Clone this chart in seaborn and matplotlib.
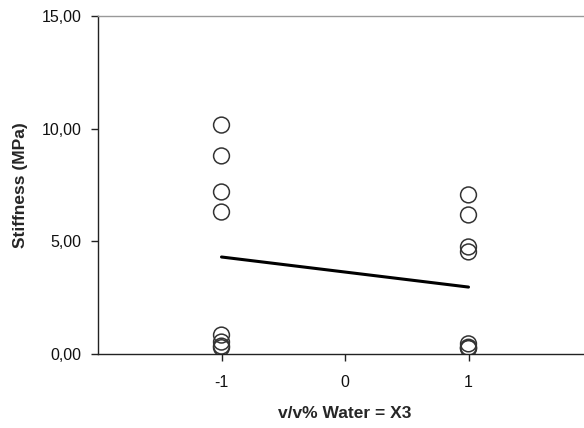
import matplotlib
matplotlib.use("Agg")
import matplotlib.pyplot as plt
import seaborn as sns
import pandas as pd
from matplotlib.ticker import FuncFormatter

x_levels = [-1] * 8 + [1] * 8
stiffness = [10.16, 8.79, 7.19, 6.30, 0.84, 0.53, 0.35, 0.28,
             7.06, 6.17, 4.75, 4.53, 0.45, 0.30, 0.25, 0.25]
x_ticks = [-1, 0, 1]
y_ticks = [0, 5, 10, 15]

df = pd.DataFrame({"x": x_levels, "y": stiffness})

sns.set_theme(style="white")
plt.rcParams["font.family"] = ["Liberation Sans", "DejaVu Sans"]

fig = plt.figure(figsize=(5.84, 4.28), dpi=100)
ax = fig.add_axes([98 / 584, 74 / 428, 494 / 584, 338 / 428])

sns.scatterplot(data=df, x="x", y="y", ax=ax, s=130, facecolors="none",
                edgecolor="#333333", linewidth=1.1, marker="o", zorder=3)
sns.lineplot(data=df, x="x", y="y", ax=ax, estimator="mean", errorbar=None,
             color="black", linewidth=2.2, zorder=2)

ax.set_xlim(-2, 2)
ax.set_ylim(0, 15)
ax.set_xticks(x_ticks)
ax.set_yticks(y_ticks)
ax.yaxis.set_major_formatter(FuncFormatter(lambda v, p: f"{v:.2f}".replace(".", ",")))
ax.xaxis.set_major_formatter(FuncFormatter(lambda v, p: f"{int(v)}"))

for s in ["left", "bottom"]:
    ax.spines[s].set_color("#222222")
    ax.spines[s].set_linewidth(1.0)
ax.spines["top"].set_color("#999999")
ax.spines["top"].set_linewidth(1.0)
ax.spines["right"].set_visible(False)

ax.tick_params(axis="both", direction="out", length=5, width=1, color="#222222",
               labelsize=11.5, labelcolor="#111111", pad=7)
ax.tick_params(axis="x", pad=10)
ax.tick_params(left=True, bottom=True)

ax.set_xlabel("v/v% Water = X3", fontsize=12.5, fontweight="bold", labelpad=12)
ax.set_ylabel("Stiffness (MPa)", fontsize=12.5, fontweight="bold", labelpad=10)

fig.savefig("out.png", dpi=100)
